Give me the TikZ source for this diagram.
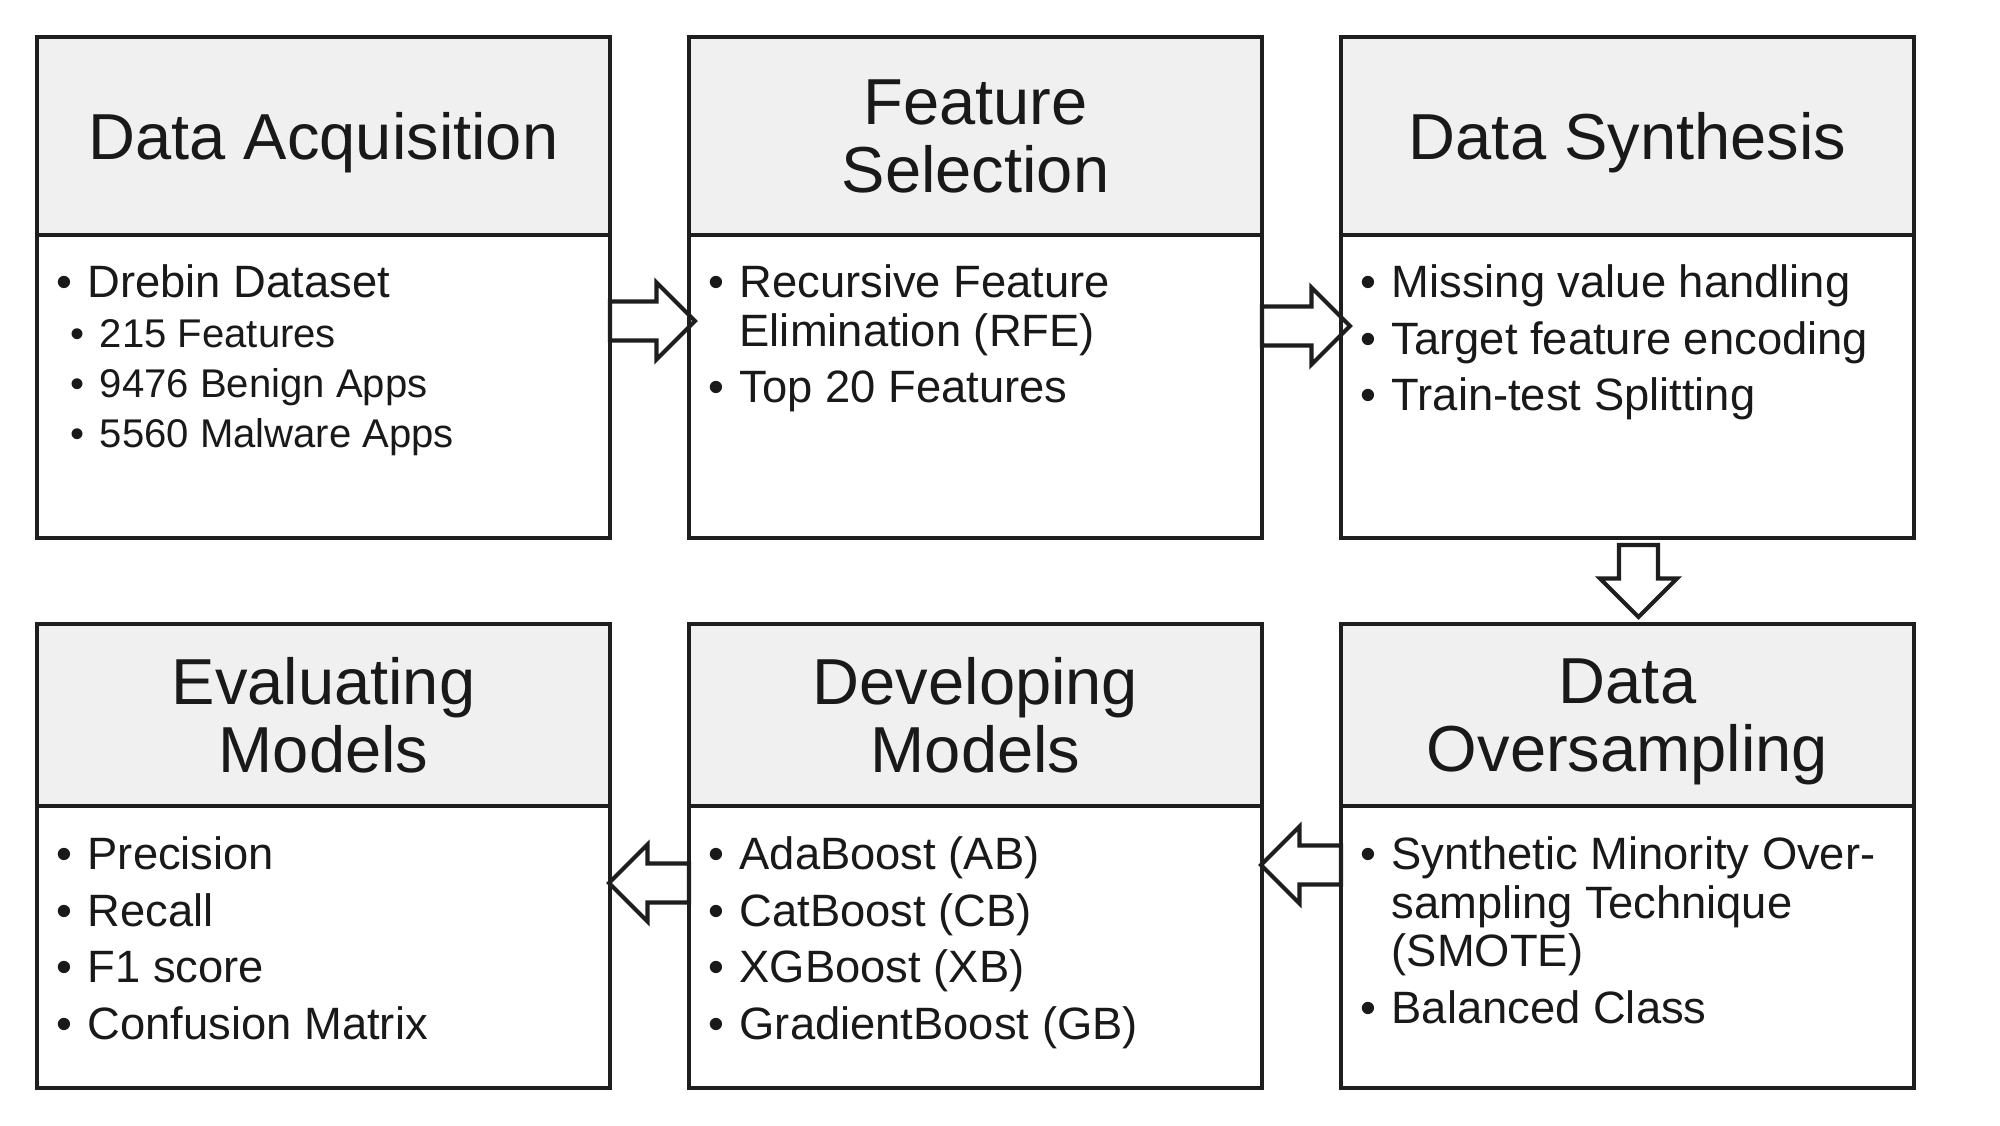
\documentclass[tikz,border=0pt]{standalone}
\usepackage{fontspec}
\setmainfont{Liberation Sans}
\usetikzlibrary{calc, positioning}

\definecolor{headgray}{RGB}{240,240,240}
\definecolor{linegray}{RGB}{30,30,30}
\definecolor{textblack}{RGB}{25,25,25}

\newcommand{\headfont}{\fontsize{18.5pt}{19.35pt}\selectfont}
\newcommand{\listfont}{\fontsize{12.9pt}{13.8pt}\selectfont}
\newcommand{\subfont}{\fontsize{11.4pt}{13.8pt}\selectfont}
\newcommand{\itm}{\textbullet\hspace{0.151cm}}
\newcommand{\itmind}{\phantom{\textbullet}\hspace{0.151cm}}
\newcommand{\subitm}{\hspace{0.142cm}\textbullet\hspace{0.15cm}}

% block arrow: tail coordinate, direction, length
\newcommand{\blockarrow}[3]{%
	\draw[blockarr, shift={(#1)}, rotate=#2]
	(0,-0.195) -- ({#3-0.385},-0.195) -- ({#3-0.385},-0.385) -- (#3,0)
	-- ({#3-0.385},0.385) -- ({#3-0.385},0.195) -- (0,0.195) -- cycle;}

\begin{document}
\begin{tikzpicture}[
	head/.style={draw=linegray, line width=1.2pt, fill=headgray, anchor=north west,
		align=center, font=\headfont, text=textblack, text depth=0pt,
		minimum width=5.73cm, inner sep=0pt, outer sep=0pt},
	body/.style={draw=linegray, line width=1.2pt, minimum width=5.73cm,
		inner sep=0pt, outer sep=0pt},
	list/.style={anchor=north west, align=left, inner sep=0pt,
		font=\listfont, text=textblack},
	blockarr/.style={draw=linegray, line width=1.2pt}
	]
	\useasboundingbox (0,0) rectangle (20,11.25);
	
	% -------------------------------------------------------------------------
	% top row
	% -------------------------------------------------------------------------
	\node[head, minimum height=1.98cm] (acqHead) at (0.37,10.88) {Data Acquisition};
	\node[body, minimum height=3.03cm, below=0pt of acqHead] (acqBody) {};
	
	\node[head, minimum height=1.98cm, right=0.79cm of acqHead] (selHead) {Feature\\Selection};
	\node[body, minimum height=3.03cm, below=0pt of selHead] (selBody) {};
	
	\node[head, minimum height=1.98cm, right=0.79cm of selHead] (synHead) {Data Synthesis};
	\node[body, minimum height=3.03cm, below=0pt of synHead] (synBody) {};
	
	% -------------------------------------------------------------------------
	% bottom row
	% -------------------------------------------------------------------------
	\node[head, minimum height=1.82cm] (evaHead) at (0.37,5.01) {Evaluating\\Models};
	\node[body, minimum height=2.82cm, below=0pt of evaHead] (evaBody) {};
	
	\node[head, minimum height=1.82cm, right=0.79cm of evaHead] (devHead) {Developing\\Models};
	\node[body, minimum height=2.82cm, below=0pt of devHead] (devBody) {};
	
	\node[head, minimum height=1.82cm, right=0.79cm of devHead] (ovsHead) {Data\\Oversampling};
	\node[body, minimum height=2.82cm, below=0pt of ovsHead] (ovsBody) {};
	
	% -------------------------------------------------------------------------
	% lists
	% -------------------------------------------------------------------------
	\node[list] (acqList) at ($(acqBody.north west)+(0.19,-0.29)$) {%
		\itm Drebin Dataset\\[0.4pt]
		{\subfont\subitm 215 Features}\\[0.4pt]
		{\subfont\subitm 9476 Benign Apps}\\[0.4pt]
		{\subfont\subitm 5560 Malware Apps}};
	
	\node[list] (selList) at ($(selBody.north west)+(0.19,-0.29)$) {%
		\itm Recursive Feature\\
		\itmind Elimination (RFE)\\[2.3pt]
		\itm Top 20 Features};
	
	\node[list] (synList) at ($(synBody.north west)+(0.19,-0.29)$) {%
		\itm Missing value handling\\[2.3pt]
		\itm Target feature encoding\\[2.3pt]
		\itm Train-test Splitting};
	
	\node[list] (evaList) at ($(evaBody.north west)+(0.19,-0.30)$) {%
		\itm Precision\\[2.3pt]
		\itm Recall\\[2.3pt]
		\itm F1 score\\[2.3pt]
		\itm Confusion Matrix};
	
	\node[list] (devList) at ($(devBody.north west)+(0.19,-0.30)$) {%
		\itm AdaBoost (AB)\\[2.3pt]
		\itm CatBoost (CB)\\[2.3pt]
		\itm XGBoost (XB)\\[2.3pt]
		\itm GradientBoost (GB)};
	
	\node[list] (ovsList) at ($(ovsBody.north west)+(0.19,-0.30)$) {%
		\itm Synthetic Minority Over-\\
		\itmind sampling Technique\\
		\itmind (SMOTE)\\[2.3pt]
		\itm Balanced Class};
	
	% -------------------------------------------------------------------------
	% block arrows
	% -------------------------------------------------------------------------
	\coordinate (t1) at ($(acqBody.north east)+(0,-0.86)$);
	\coordinate (t2) at ($(selBody.north east)+(0,-0.91)$);
	\coordinate (t3) at ($(synBody.south)+(0.11,-0.07)$);
	\coordinate (t4) at ($(ovsBody.north west)+(0,-0.59)$);
	\coordinate (t5) at ($(devBody.north west)+(0,-0.77)$);
	
	\blockarrow{t1}{0}{0.85}
	\blockarrow{t2}{0}{0.88}
	\blockarrow{t3}{-90}{0.72}
	\blockarrow{t4}{180}{0.80}
	\blockarrow{t5}{180}{0.80}
	
\end{tikzpicture}
\end{document}
